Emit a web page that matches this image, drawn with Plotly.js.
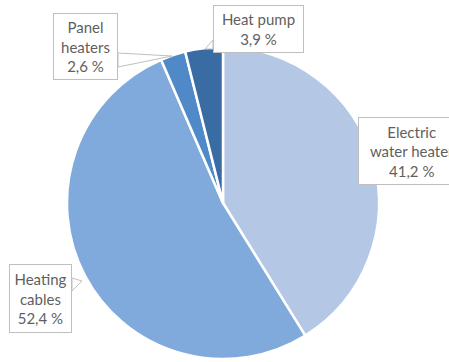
<!DOCTYPE html>
<html><head><meta charset="utf-8">
<script src="https://cdn.plot.ly/plotly-3.0.1.min.js"></script>
<style>html,body{margin:0;padding:0;background:#fff}#chart{width:449px;height:362px}</style>
</head><body><div id="chart"></div>
<script>
const categories = ["Electric water heater", "Heating cables", "Panel heaters", "Heat pump"];
const shares = [41.2, 52.4, 2.6, 3.9];
const labelTexts = ["Electric<br>water heater<br>41,2 %", "Heating<br>cables<br>52,4 %", "Panel<br>heaters<br>2,6 %", "Heat pump<br>3,9 %"];
const colors = ["#b4c8e6", "#80aadc", "#5089c8", "#3a6ca4"];

const W = 449, H = 362;
const px = x => x / W, py = y => 1 - y / H;
const cx = 223, cy = 203, r = 156;

// label box geometry (pixel boxes)
const boxes = [
  {x0: 358, x1: 466, y0: 117, y1: 185},
  {x0: 9, x1: 72, y0: 264, y1: 333},
  {x0: 53, x1: 118, y0: 13, y1: 80},
  {x0: 213, x1: 304, y0: 5, y1: 53}
];

const annotations = categories.map((c, i) => {
  const b = boxes[i];
  return {
    xref: 'paper', yref: 'paper',
    x: px((b.x0 + b.x1) / 2), y: py((b.y0 + b.y1) / 2),
    xanchor: 'center', yanchor: 'middle',
    text: labelTexts[i], showarrow: false,
    width: b.x1 - b.x0 - 2, height: b.y1 - b.y0 - 2,
    bordercolor: '#bfbfbf', borderwidth: 1, bgcolor: '#ffffff', borderpad: 0,
    font: {family: 'Lato, "Open Sans", sans-serif', size: 15, color: '#5f5f5f'}
  };
});

function pathPx(pts) {
  return 'M' + pts.map(p => px(p[0]) + ',' + py(p[1])).join(' L') + ' Z';
}
const shapes = [
  {type: 'path', xref: 'paper', yref: 'paper', path: pathPx([[118, 53], [172, 56], [118, 67]]), line: {color: '#bfbfbf', width: 1}, fillcolor: '#ffffff'},
  {type: 'path', xref: 'paper', yref: 'paper', path: pathPx([[213, 40], [205, 49], [213, 49]]), line: {color: '#bfbfbf', width: 1}, fillcolor: '#ffffff'},
  {type: 'path', xref: 'paper', yref: 'paper', path: pathPx([[72, 278], [82, 281], [72, 291]]), line: {color: '#bfbfbf', width: 1}, fillcolor: '#ffffff'}
];

const data = [{
  type: 'pie', labels: categories, values: shares,
  sort: false, direction: 'clockwise', rotation: 0,
  marker: {colors: colors, line: {color: '#ffffff', width: 2.5}},
  textinfo: 'none', hoverinfo: 'label+percent', showlegend: false,
  domain: {x: [px(cx - r), px(cx + r)], y: [py(cy + r), py(cy - r)]}
}];

const layout = {
  width: W, height: H, margin: {l: 0, r: 0, t: 0, b: 0},
  paper_bgcolor: '#ffffff', showlegend: false,
  annotations: annotations, shapes: shapes
};
Plotly.newPlot('chart', data, layout, {staticPlot: true});
</script></body></html>
